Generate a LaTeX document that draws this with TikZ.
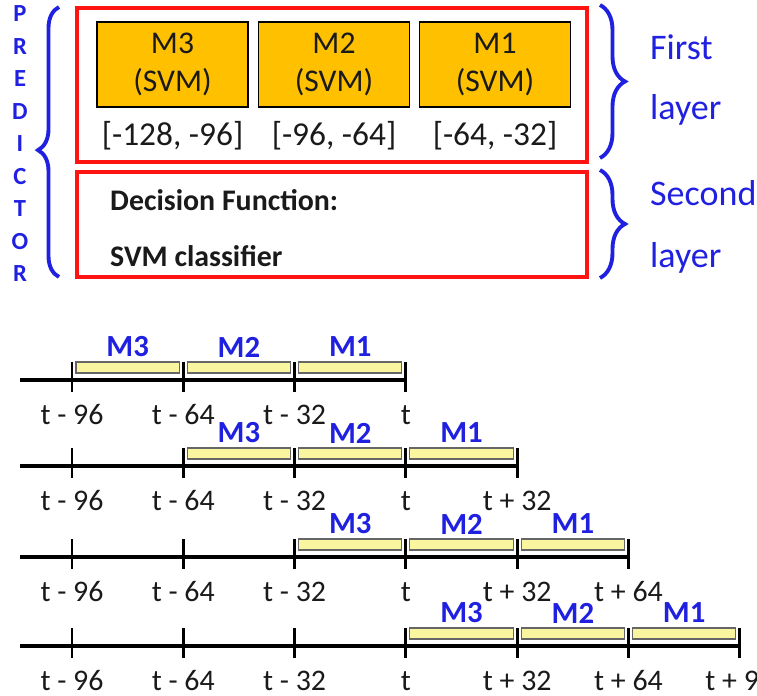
\documentclass[tikz,border=0pt]{standalone}
\usepackage{fontspec}
\setmainfont{Carlito}
\usetikzlibrary{decorations.pathreplacing}

\definecolor{PredBlue}{HTML}{2020E0}
\definecolor{LayerRed}{HTML}{FF1414}
\definecolor{ModelColor}{HTML}{FFC000}
\definecolor{WindowColor}{HTML}{FAF6A0}
\definecolor{TextGray}{HTML}{1A1A1A}

\newcommand\ticktext[1]{\ifcase#1 t - 96\or t - 64\or t - 32\or t\or
  t + 32\or t + 64\or t + 96\fi}

\tikzset{
  layerbox/.style={draw=LayerRed,line width=2.3pt},
  modelbox/.style={draw=black,line width=1.1pt,fill=ModelColor,
    minimum width=3.02cm,minimum height=1.7cm,align=center,text=TextGray,
    font=\fontsize{18}{21.5}\selectfont},
  rangelabel/.style={text=TextGray,font=\fontsize{19}{22}\selectfont},
  decisiontext/.style={anchor=west,text=TextGray,font=\fontsize{17}{20}\bfseries},
  layertext/.style={anchor=west,text=PredBlue,font=\fontsize{20.5}{24}\selectfont},
  bluebrace/.style={draw=PredBlue,line width=2.2pt,decorate,
    decoration={brace,amplitude=#1}},
  predletter/.style={text=PredBlue,font=\fontsize{14}{16}\bfseries},
  axisline/.style={line width=2pt},
  tickline/.style={line width=1.7pt},
  ticklabel/.style={text=TextGray,font=\fontsize{17}{20}\selectfont},
  windowbar/.style={fill=WindowColor,draw=black!60,line width=0.6pt},
  winlabel/.style={text=PredBlue,font=\fontsize{17.5}{20}\bfseries}
}

\begin{document}
\begin{tikzpicture}[x=0.02cm,y=-0.02cm]
  \useasboundingbox (0,0) rectangle (757,696);

  % ===== Parameters =====
  \def\tzero{72}
  \def\tstep{111.3}

  % ===== Predictor: first layer =====
  \draw[layerbox] (77,8) rectangle (587,162);
  \foreach \m/\x/\rng in {M3/172.5/{[-128, -96]},M2/334/{[-96, -64]},M1/495/{[-64, -32]}}{
    \node[modelbox] (box-\m) at (\x,64.5) {\m\\(SVM)};
    \node[rangelabel] (rng-\m) at (\x,136) {\rng};
  }

  % ===== Predictor: second layer =====
  \draw[layerbox] (77,172) rectangle (587,277);
  \node[decisiontext] (decision) at (104,200) {Decision Function:};
  \node[decisiontext] (classifier) at (104,256) {SVM classifier};

  % ===== Braces and layer names =====
  \draw[bluebrace=0.42cm,decoration={aspect=0.47}] (59,277) -- (59,7);
  \draw[bluebrace=0.5cm] (600,5) -- (600,158);
  \draw[bluebrace=0.5cm] (600,170) -- (600,278);
  \node[layertext] (first)  at (644,47)  {First};
  \node[layertext] (layer1) at (644,110) {layer};
  \node[layertext] (second) at (644,193) {Second};
  \node[layertext] (layer2) at (644,258) {layer};

  % PREDICTOR, one letter per line
  \foreach \c [count=\i from 0] in {P,R,E,D,I,C,T,O,R}{
    \node[predletter] (pred-\i) at (20,{14+\i*32.5}) {\c};
  }

  % ===== Sliding windows =====
  \foreach \row/\yy in {0/380,1/466,2/557,3/646}{
    \pgfmathtruncatemacro{\last}{\row+3}
    \draw[axisline] (20,\yy) -- ({\tzero+\last*\tstep},\yy);
    \foreach \k in {0,...,\last}{
      \pgfmathsetmacro{\xk}{\tzero+\k*\tstep}
      \draw[tickline] (\xk,\yy-18) -- (\xk,\yy+12);
      \node[ticklabel] (tl-\row-\k) at (\xk,\yy+35) {\ticktext{\k}};
    }
    \foreach \j/\m in {0/M3,1/M2,2/M1}{
      \pgfmathsetmacro{\xa}{\tzero+(\row+\j)*\tstep}
      \filldraw[windowbar] (\xa+4,\yy-18) rectangle (\xa+\tstep-4,\yy-7);
      \node[winlabel] (win-\row-\j) at (\xa+\tstep/2,\yy-33) {\m};
    }
  }

\end{tikzpicture}
\end{document}
